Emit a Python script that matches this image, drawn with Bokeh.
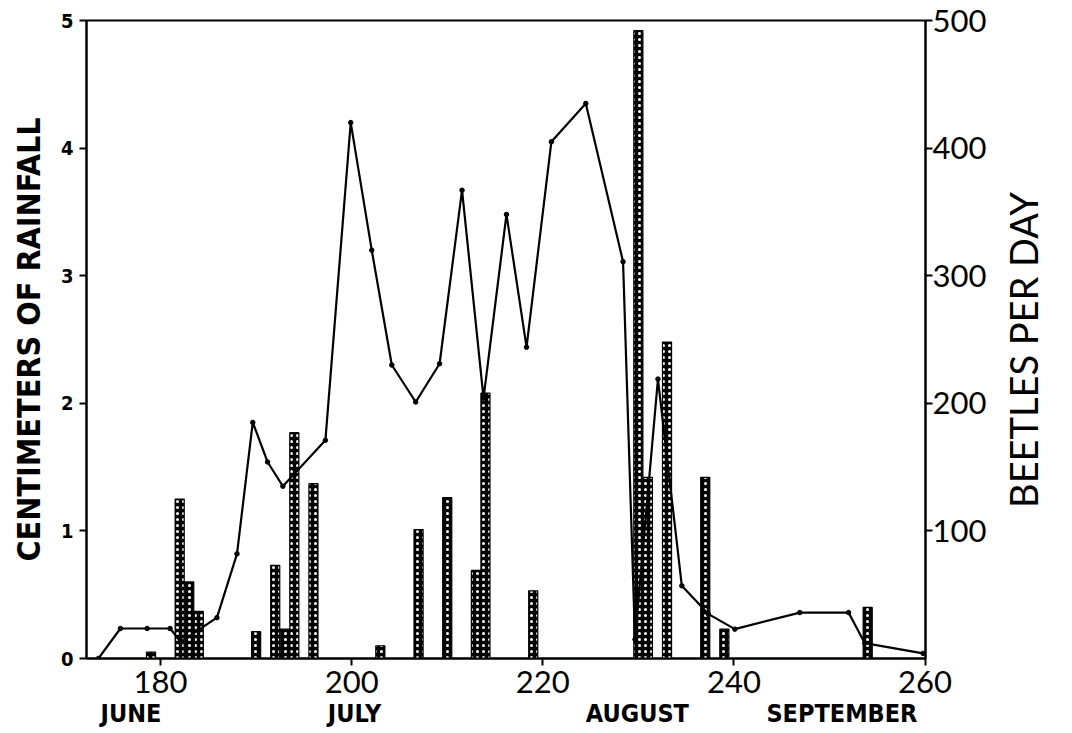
import math
from bokeh.plotting import figure
from bokeh.models import Range1d, LinearAxis, FixedTicker
from bokeh.embed import file_html
from bokeh.resources import INLINE

# ---- data ----
rain_days = [179, 182, 183, 184, 190, 192, 193, 194, 196, 203, 207, 210, 213, 214,
             219, 230, 231, 233, 237, 239, 254]
rain_cm = [0.05, 1.25, 0.60, 0.37, 0.21, 0.73, 0.23, 1.77, 1.37, 0.10, 1.01, 1.26,
           0.69, 2.08, 0.53, 4.92, 1.42, 2.48, 1.42, 0.23, 0.40]

beetle_days = [173.5, 175.8, 178.6, 181.0, 182.1, 185.9, 188.0, 189.65, 191.2, 192.8,
               197.25, 199.9, 202.1, 204.2, 206.7, 209.2, 211.55, 213.8, 216.2, 218.3,
               220.9, 224.5, 228.4, 229.65, 232.05, 234.55, 237.3, 240.1, 246.9, 252.0,
               253.7, 259.8]
beetles = [0, 23.5, 23.5, 23.5, 13, 32, 82, 185, 154, 135,
           171, 420, 320, 230, 201, 231, 367, 204, 348, 244,
           405, 435, 311, 15, 219, 57, 35, 23, 36, 36,
           12, 4]

x_ticks = [180, 200, 220, 240, 260]
left_ticks = [0, 1, 2, 3, 4, 5]
right_ticks = [100, 200, 300, 400, 500]
months = ["JUNE", "JULY", "AUGUST", "SEPTEMBER"]
month_pos = [176.9, 200.3, 229.9, 251.3]
right_title = "BEETLES PER DAY"
right_title_anchor = 118   # beetle-scale value where the rotated title starts

BOLD_FONT = "Liberation Sans Narrow, DejaVu Sans Condensed, DejaVu Sans"
THIN_FONT = "Lato"

p = figure(width=1072, height=733, output_backend="svg", toolbar_location=None,
           x_range=Range1d(172.25, 260.05), y_range=Range1d(0, 5),
           min_border_left=86, min_border_top=20, min_border_right=146,
           min_border_bottom=75)
p.extra_y_ranges = {"beetles": Range1d(0, 500)}
p.grid.visible = False
p.outline_line_color = "black"
p.outline_line_width = 2
p.background_fill_color = "white"
p.border_fill_color = "white"

# rainfall bars
p.vbar(x=rain_days, top=rain_cm, width=0.95, bottom=0,
       fill_color="black", line_color="black", line_width=1.2,
       hatch_pattern="dot", hatch_color="white", hatch_scale=6, hatch_weight=2)

# beetle line
p.line(beetle_days, beetles, y_range_name="beetles", line_color="black", line_width=2.2)
p.scatter(beetle_days, beetles, y_range_name="beetles", size=4.5, color="black")


def style_axis(ax, font, size, bold=False):
    ax.minor_tick_line_color = None
    ax.major_tick_out = 7
    ax.major_tick_in = 0
    ax.major_tick_line_width = 2
    ax.major_tick_line_color = "black"
    ax.axis_line_width = 2
    ax.axis_line_color = "black"
    ax.major_label_text_font = font
    ax.major_label_text_font_size = size
    ax.major_label_text_color = "black"
    ax.major_label_text_font_style = "bold" if bold else "normal"


# x axis
xa = p.xaxis[0]
xa.ticker = FixedTicker(ticks=x_ticks)
style_axis(xa, THIN_FONT, "31px")
xa.major_label_standoff = 5

# month names: a second, tick-less axis below
ma = LinearAxis(ticker=FixedTicker(ticks=month_pos),
                major_label_overrides={m_x: m for m_x, m in zip(month_pos, months)})
style_axis(ma, BOLD_FONT, "25px", bold=True)
ma.major_tick_line_color = None
ma.axis_line_color = None
ma.major_tick_out = 0
ma.major_label_standoff = 3
p.add_layout(ma, "below")

# left axis
ya = p.yaxis[0]
ya.ticker = FixedTicker(ticks=left_ticks)
style_axis(ya, BOLD_FONT, "20px", bold=True)
ya.major_label_standoff = 6
ya.axis_label = "CENTIMETERS OF RAINFALL"
ya.axis_label_text_font = BOLD_FONT
ya.axis_label_text_font_style = "bold"
ya.axis_label_text_font_size = "32px"
ya.axis_label_text_color = "black"
ya.axis_label_standoff = 10

# right axis (beetles)
ra = LinearAxis(y_range_name="beetles", ticker=FixedTicker(ticks=right_ticks))
style_axis(ra, THIN_FONT, "31px")
ra.major_label_standoff = 0
p.add_layout(ra, "right")

# right title, reading bottom-to-top
ta = LinearAxis(y_range_name="beetles", ticker=FixedTicker(ticks=[right_title_anchor]),
                major_label_overrides={right_title_anchor: right_title})
style_axis(ta, THIN_FONT, "38px")
ta.major_tick_line_color = None
ta.axis_line_color = None
ta.major_tick_out = 0
ta.major_label_orientation = math.pi / 2
ta.major_label_standoff = 34
p.add_layout(ta, "right")

open("out.html", "w").write(file_html(p, INLINE))
